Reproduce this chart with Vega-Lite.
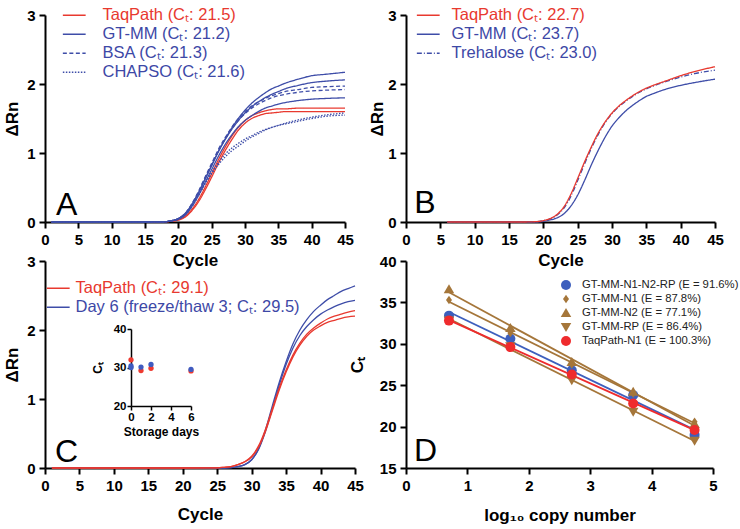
{
"$schema":"https://vega.github.io/schema/vega-lite/v6.json",
"padding":{"left":3,"top":7,"right":5,"bottom":5},
"background":"white",
"bounds":"flush",
"columns":2,
"spacing":{"row":39,"column":51},
"resolve":{"scale":{"color":"independent","stroke":"independent","strokeDash":"independent","shape":"independent","size":"independent","fill":"independent"},"legend":{"color":"independent","stroke":"independent","strokeDash":"independent","shape":"independent","size":"independent","fill":"independent"}},
"config":{
 "font":"Liberation Sans",
 "view":{"stroke":null},
 "axis":{"domainColor":"#000","domainWidth":2,"tickColor":"#000","tickWidth":2,"tickSize":6,"labelFontSize":15,"labelFontWeight":"bold","labelColor":"#000","labelFont":"Liberation Sans","titleFont":"Liberation Sans","titleFontSize":17,"titleFontWeight":"bold","titleColor":"#000","grid":false,"labelPadding":4,"titlePadding":5,"labelFlush":false,"labelOverlap":false}
},
"datasets":{
 "A":[
  {"c":1,"t1":0,"t2":0,"g1":0,"g2":0,"g3":0,"b1":0,"b2":0,"h1":0,"h2":0},
  {"c":8,"t1":0,"t2":0,"g1":0,"g2":0,"g3":0,"b1":0,"b2":0,"h1":0,"h2":0},
  {"c":15,"t1":0,"t2":0,"g1":0,"g2":0,"g3":0,"b1":0,"b2":0,"h1":0,"h2":0},
  {"c":18,"t1":0.005,"t2":0.005,"g1":0.005,"g2":0.005,"g3":0.005,"b1":0.005,"b2":0.005,"h1":0.005,"h2":0.005},
  {"c":19,"t1":0.01,"t2":0.01,"g1":0.02,"g2":0.02,"g3":0.015,"b1":0.02,"b2":0.02,"h1":0.015,"h2":0.015},
  {"c":20,"t1":0.03,"t2":0.03,"g1":0.05,"g2":0.05,"g3":0.04,"b1":0.05,"b2":0.05,"h1":0.04,"h2":0.04},
  {"c":21,"t1":0.08,"t2":0.07,"g1":0.12,"g2":0.12,"g3":0.10,"b1":0.12,"b2":0.12,"h1":0.10,"h2":0.10},
  {"c":22,"t1":0.18,"t2":0.16,"g1":0.25,"g2":0.25,"g3":0.22,"b1":0.26,"b2":0.25,"h1":0.22,"h2":0.22},
  {"c":23,"t1":0.32,"t2":0.29,"g1":0.42,"g2":0.42,"g3":0.38,"b1":0.44,"b2":0.43,"h1":0.38,"h2":0.38},
  {"c":24,"t1":0.50,"t2":0.46,"g1":0.62,"g2":0.62,"g3":0.57,"b1":0.65,"b2":0.63,"h1":0.55,"h2":0.56},
  {"c":25,"t1":0.70,"t2":0.65,"g1":0.82,"g2":0.82,"g3":0.76,"b1":0.85,"b2":0.83,"h1":0.70,"h2":0.72},
  {"c":26,"t1":0.90,"t2":0.85,"g1":1.02,"g2":1.02,"g3":0.95,"b1":1.05,"b2":1.03,"h1":0.83,"h2":0.86},
  {"c":27,"t1":1.08,"t2":1.03,"g1":1.20,"g2":1.19,"g3":1.12,"b1":1.22,"b2":1.20,"h1":0.94,"h2":0.98},
  {"c":28,"t1":1.24,"t2":1.19,"g1":1.36,"g2":1.34,"g3":1.26,"b1":1.37,"b2":1.35,"h1":1.03,"h2":1.07},
  {"c":29,"t1":1.37,"t2":1.33,"g1":1.50,"g2":1.47,"g3":1.38,"b1":1.50,"b2":1.47,"h1":1.10,"h2":1.14},
  {"c":30,"t1":1.47,"t2":1.43,"g1":1.62,"g2":1.58,"g3":1.47,"b1":1.60,"b2":1.57,"h1":1.17,"h2":1.20},
  {"c":31,"t1":1.54,"t2":1.50,"g1":1.72,"g2":1.67,"g3":1.54,"b1":1.68,"b2":1.65,"h1":1.23,"h2":1.25},
  {"c":32,"t1":1.58,"t2":1.54,"g1":1.80,"g2":1.74,"g3":1.60,"b1":1.74,"b2":1.71,"h1":1.28,"h2":1.30},
  {"c":33,"t1":1.61,"t2":1.57,"g1":1.87,"g2":1.80,"g3":1.65,"b1":1.79,"b2":1.76,"h1":1.33,"h2":1.34},
  {"c":34,"t1":1.63,"t2":1.58,"g1":1.93,"g2":1.85,"g3":1.68,"b1":1.83,"b2":1.80,"h1":1.37,"h2":1.37},
  {"c":35,"t1":1.64,"t2":1.59,"g1":1.97,"g2":1.89,"g3":1.71,"b1":1.86,"b2":1.83,"h1":1.40,"h2":1.40},
  {"c":36,"t1":1.64,"t2":1.60,"g1":2.01,"g2":1.93,"g3":1.73,"b1":1.89,"b2":1.85,"h1":1.43,"h2":1.42},
  {"c":38,"t1":1.65,"t2":1.60,"g1":2.07,"g2":1.98,"g3":1.76,"b1":1.92,"b2":1.88,"h1":1.48,"h2":1.46},
  {"c":40,"t1":1.65,"t2":1.60,"g1":2.12,"g2":2.02,"g3":1.78,"b1":1.95,"b2":1.90,"h1":1.52,"h2":1.50},
  {"c":42,"t1":1.65,"t2":1.60,"g1":2.14,"g2":2.04,"g3":1.79,"b1":1.96,"b2":1.91,"h1":1.55,"h2":1.53},
  {"c":45,"t1":1.65,"t2":1.60,"g1":2.17,"g2":2.06,"g3":1.80,"b1":1.97,"b2":1.92,"h1":1.58,"h2":1.55}
 ],
 "Akeys":[
  {"key":"t1","cat":"TaqPath (Cₜ: 21.5)"},{"key":"t2","cat":"TaqPath (Cₜ: 21.5)"},
  {"key":"g1","cat":"GT-MM (Cₜ: 21.2)"},{"key":"g2","cat":"GT-MM (Cₜ: 21.2)"},{"key":"g3","cat":"GT-MM (Cₜ: 21.2)"},
  {"key":"b1","cat":"BSA (Cₜ: 21.3)"},{"key":"b2","cat":"BSA (Cₜ: 21.3)"},
  {"key":"h1","cat":"CHAPSO (Cₜ: 21.6)"},{"key":"h2","cat":"CHAPSO (Cₜ: 21.6)"}
 ],
 "B":[
  {"c":6,"t":0,"g":0,"r":0},
  {"c":12,"t":0,"g":0,"r":0},
  {"c":17,"t":0,"g":0,"r":0},
  {"c":19,"t":0.005,"g":0,"r":0.005},
  {"c":20,"t":0.02,"g":0.01,"r":0.02},
  {"c":21,"t":0.05,"g":0.03,"r":0.045},
  {"c":22,"t":0.11,"g":0.06,"r":0.10},
  {"c":23,"t":0.22,"g":0.12,"r":0.20},
  {"c":24,"t":0.40,"g":0.23,"r":0.37},
  {"c":25,"t":0.63,"g":0.39,"r":0.60},
  {"c":26,"t":0.87,"g":0.60,"r":0.84},
  {"c":27,"t":1.09,"g":0.83,"r":1.07},
  {"c":28,"t":1.29,"g":1.04,"r":1.27},
  {"c":29,"t":1.45,"g":1.23,"r":1.44},
  {"c":30,"t":1.58,"g":1.39,"r":1.57},
  {"c":31,"t":1.68,"g":1.51,"r":1.67},
  {"c":32,"t":1.76,"g":1.61,"r":1.75},
  {"c":33,"t":1.83,"g":1.69,"r":1.82},
  {"c":34,"t":1.89,"g":1.76,"r":1.88},
  {"c":35,"t":1.94,"g":1.82,"r":1.93},
  {"c":36,"t":1.98,"g":1.86,"r":1.97},
  {"c":38,"t":2.05,"g":1.93,"r":2.04},
  {"c":40,"t":2.12,"g":1.98,"r":2.10},
  {"c":42,"t":2.18,"g":2.02,"r":2.15},
  {"c":45,"t":2.25,"g":2.07,"r":2.20}
 ],
 "Bkeys":[
  {"key":"t","cat":"TaqPath (Cₜ: 22.7)"},{"key":"g","cat":"GT-MM (Cₜ: 23.7)"},{"key":"r","cat":"Trehalose (Cₜ: 23.0)"}
 ],
 "C":[
  {"c":1,"t1":0,"t2":0,"g1":0,"g2":0},
  {"c":10,"t1":0,"t2":0,"g1":0,"g2":0},
  {"c":20,"t1":0,"t2":0,"g1":0,"g2":0},
  {"c":25,"t1":0.003,"t2":0.003,"g1":0,"g2":0},
  {"c":26,"t1":0.01,"t2":0.01,"g1":0,"g2":0},
  {"c":27,"t1":0.02,"t2":0.02,"g1":0.005,"g2":0.005},
  {"c":28,"t1":0.05,"t2":0.05,"g1":0.02,"g2":0.02},
  {"c":29,"t1":0.09,"t2":0.09,"g1":0.05,"g2":0.05},
  {"c":30,"t1":0.17,"t2":0.16,"g1":0.12,"g2":0.12},
  {"c":31,"t1":0.32,"t2":0.30,"g1":0.28,"g2":0.27},
  {"c":32,"t1":0.56,"t2":0.53,"g1":0.55,"g2":0.53},
  {"c":33,"t1":0.86,"t2":0.83,"g1":0.90,"g2":0.86},
  {"c":34,"t1":1.16,"t2":1.13,"g1":1.24,"g2":1.20},
  {"c":35,"t1":1.42,"t2":1.39,"g1":1.54,"g2":1.50},
  {"c":36,"t1":1.64,"t2":1.61,"g1":1.80,"g2":1.74},
  {"c":37,"t1":1.81,"t2":1.78,"g1":2.00,"g2":1.92},
  {"c":38,"t1":1.94,"t2":1.91,"g1":2.15,"g2":2.05},
  {"c":39,"t1":2.03,"t2":2.00,"g1":2.27,"g2":2.15},
  {"c":40,"t1":2.10,"t2":2.06,"g1":2.36,"g2":2.23},
  {"c":41,"t1":2.16,"t2":2.11,"g1":2.44,"g2":2.29},
  {"c":42,"t1":2.20,"t2":2.14,"g1":2.50,"g2":2.34},
  {"c":43,"t1":2.23,"t2":2.17,"g1":2.56,"g2":2.38},
  {"c":44,"t1":2.26,"t2":2.19,"g1":2.60,"g2":2.41},
  {"c":45,"t1":2.28,"t2":2.20,"g1":2.64,"g2":2.43}
 ],
 "Ckeys":[
  {"key":"t1","cat":"TaqPath (Cₜ: 29.1)"},{"key":"t2","cat":"TaqPath (Cₜ: 29.1)"},
  {"key":"g1","cat":"Day 6 (freeze/thaw 3; Cₜ: 29.5)"},{"key":"g2","cat":"Day 6 (freeze/thaw 3; Cₜ: 29.5)"}
 ],
 "inset":[
  {"d":0,"ct":32.0,"grp":"TaqPath (Cₜ: 29.1)"},
  {"d":0,"ct":30.4,"grp":"Day 6 (freeze/thaw 3; Cₜ: 29.5)"},
  {"d":0,"ct":30.0,"grp":"Day 6 (freeze/thaw 3; Cₜ: 29.5)"},
  {"d":1,"ct":29.2,"grp":"TaqPath (Cₜ: 29.1)"},
  {"d":1,"ct":30.1,"grp":"Day 6 (freeze/thaw 3; Cₜ: 29.5)"},
  {"d":2,"ct":29.8,"grp":"TaqPath (Cₜ: 29.1)"},
  {"d":2,"ct":30.8,"grp":"Day 6 (freeze/thaw 3; Cₜ: 29.5)"},
  {"d":6,"ct":29.1,"grp":"TaqPath (Cₜ: 29.1)"},
  {"d":6,"ct":29.5,"grp":"Day 6 (freeze/thaw 3; Cₜ: 29.5)"}
 ],
 "D":[
  {"s":"GT-MM-N1-N2-RP (E = 91.6%)","x":0.7,"ct":33.4},
  {"s":"GT-MM-N1-N2-RP (E = 91.6%)","x":1.7,"ct":30.6},
  {"s":"GT-MM-N1-N2-RP (E = 91.6%)","x":2.7,"ct":26.8},
  {"s":"GT-MM-N1-N2-RP (E = 91.6%)","x":3.7,"ct":23.8},
  {"s":"GT-MM-N1-N2-RP (E = 91.6%)","x":4.7,"ct":19.0},
  {"s":"GT-MM-N1 (E = 87.8%)","x":0.7,"ct":35.3},
  {"s":"GT-MM-N1 (E = 87.8%)","x":1.7,"ct":31.3},
  {"s":"GT-MM-N1 (E = 87.8%)","x":2.7,"ct":27.5},
  {"s":"GT-MM-N1 (E = 87.8%)","x":3.7,"ct":24.0},
  {"s":"GT-MM-N1 (E = 87.8%)","x":4.7,"ct":20.6},
  {"s":"GT-MM-N2 (E = 77.1%)","x":0.7,"ct":36.6},
  {"s":"GT-MM-N2 (E = 77.1%)","x":1.7,"ct":31.9},
  {"s":"GT-MM-N2 (E = 77.1%)","x":2.7,"ct":27.8},
  {"s":"GT-MM-N2 (E = 77.1%)","x":3.7,"ct":24.2},
  {"s":"GT-MM-N2 (E = 77.1%)","x":4.7,"ct":20.3},
  {"s":"GT-MM-RP (E = 86.4%)","x":0.7,"ct":32.8},
  {"s":"GT-MM-RP (E = 86.4%)","x":1.7,"ct":29.7},
  {"s":"GT-MM-RP (E = 86.4%)","x":2.7,"ct":25.6},
  {"s":"GT-MM-RP (E = 86.4%)","x":3.7,"ct":21.8},
  {"s":"GT-MM-RP (E = 86.4%)","x":4.7,"ct":18.3},
  {"s":"TaqPath-N1 (E = 100.3%)","x":0.7,"ct":32.8},
  {"s":"TaqPath-N1 (E = 100.3%)","x":1.7,"ct":29.6},
  {"s":"TaqPath-N1 (E = 100.3%)","x":2.7,"ct":26.3},
  {"s":"TaqPath-N1 (E = 100.3%)","x":3.7,"ct":22.8},
  {"s":"TaqPath-N1 (E = 100.3%)","x":4.7,"ct":19.6}
 ]
},
"concat":[
  {"width":300,"height":207,
   "layer":[
    {"data":{"name":"A"},
     "transform":[{"fold":["t1","t2","g1","g2","g3","b1","b2","h1","h2"],"as":["key","v"]},{"lookup":"key","from":{"data":{"name":"Akeys"},"key":"key","fields":["cat"]}}],
     "mark":{"type":"line","strokeWidth":1.3,"interpolate":"monotone"},
     "encoding":{
      "x":{"field":"c","type":"quantitative","scale":{"domain":[0,45],"nice":false,"zero":false},"axis":{"values":[0,5,10,15,20,25,30,35,40,45],"format":"d","title":"Cycle"}},
      "y":{"field":"v","type":"quantitative","scale":{"domain":[0,3],"nice":false},"axis":{"values":[0,1,2,3],"format":"d","title":"ΔRn","titlePadding":5}},
      "color":{"field":"cat","type":"nominal","scale":{"domain":["TaqPath (Cₜ: 21.5)","GT-MM (Cₜ: 21.2)","BSA (Cₜ: 21.3)","CHAPSO (Cₜ: 21.6)"],"range":["#e8392f","#3e4da8","#3e4da8","#3e4da8"]},
       "legend":{"orient":"none","legendX":21,"legendY":-8,"title":null,"symbolType":"M-2,0H2","symbolSize":130,"symbolStrokeWidth":1.5,"labelFontSize":16.5,"labelFont":"Liberation Sans","labelOffset":20,"labelLimit":400,"rowPadding":2,"padding":0,"encode":{"labels":{"update":{"fill":{"signal":"indexof(datum.label,'TaqPath')>=0 ? '#e8392f' : '#3d48a6'"}}}}}},
      "strokeDash":{"field":"cat","type":"nominal","scale":{"domain":["TaqPath (Cₜ: 21.5)","GT-MM (Cₜ: 21.2)","BSA (Cₜ: 21.3)","CHAPSO (Cₜ: 21.6)"],"range":[[1,0],[1,0],[4,2.5],[1.5,1.5]]},
       "legend":{"orient":"none","legendX":21,"legendY":-8,"title":null,"symbolType":"M-2,0H2","symbolSize":130,"symbolStrokeWidth":1.5,"labelFontSize":16.5,"labelFont":"Liberation Sans","labelOffset":20,"labelLimit":400,"rowPadding":2,"padding":0,"encode":{"labels":{"update":{"fill":{"signal":"indexof(datum.label,'TaqPath')>=0 ? '#e8392f' : '#3d48a6'"}}}}}},
      "detail":{"field":"key","type":"nominal"}
     }},
    {"data":{"values":[{"panel":"A"}]},
     "mark":{"type":"text","fontSize":32,"align":"left","baseline":"alphabetic","color":"#000","font":"Liberation Sans"},
     "encoding":{"x":{"datum":1.65,"axis":{"values":[0,5,10,15,20,25,30,35,40,45],"format":"d","title":"Cycle"}},"y":{"datum":0.1,"axis":{"values":[0,1,2,3],"format":"d","title":"ΔRn","titlePadding":5}},"text":{"field":"panel"}}}
   ]},
  {"width":309,"height":207,
   "layer":[
    {"data":{"name":"B"},
     "transform":[{"fold":["g","r","t"],"as":["key","v"]},{"lookup":"key","from":{"data":{"name":"Bkeys"},"key":"key","fields":["cat"]}}],
     "mark":{"type":"line","strokeWidth":1.3,"interpolate":"monotone"},
     "encoding":{
      "x":{"field":"c","type":"quantitative","scale":{"domain":[0,45],"nice":false,"zero":false},"axis":{"values":[0,5,10,15,20,25,30,35,40,45],"format":"d","title":"Cycle"}},
      "y":{"field":"v","type":"quantitative","scale":{"domain":[0,3],"nice":false},"axis":{"values":[0,1,2,3],"format":"d","title":"ΔRn","titlePadding":1}},
      "color":{"field":"cat","type":"nominal","scale":{"domain":["TaqPath (Cₜ: 22.7)","GT-MM (Cₜ: 23.7)","Trehalose (Cₜ: 23.0)"],"range":["#e8392f","#3e4da8","#3e4da8"]},
       "legend":{"orient":"none","legendX":14,"legendY":-8,"title":null,"symbolType":"M-2,0H2","symbolSize":130,"symbolStrokeWidth":1.5,"labelFontSize":16.5,"labelFont":"Liberation Sans","labelOffset":15,"labelLimit":400,"rowPadding":2,"padding":0,"encode":{"labels":{"update":{"fill":{"signal":"indexof(datum.label,'TaqPath')>=0 ? '#e8392f' : '#3d48a6'"}}}}}},
      "strokeDash":{"field":"cat","type":"nominal","scale":{"domain":["TaqPath (Cₜ: 22.7)","GT-MM (Cₜ: 23.7)","Trehalose (Cₜ: 23.0)"],"range":[[1,0],[1,0],[5,2,1,2]]},
       "legend":{"orient":"none","legendX":14,"legendY":-8,"title":null,"symbolType":"M-2,0H2","symbolSize":130,"symbolStrokeWidth":1.5,"labelFontSize":16.5,"labelFont":"Liberation Sans","labelOffset":15,"labelLimit":400,"rowPadding":2,"padding":0,"encode":{"labels":{"update":{"fill":{"signal":"indexof(datum.label,'TaqPath')>=0 ? '#e8392f' : '#3d48a6'"}}}}}},
      "detail":{"field":"key","type":"nominal"}
     }},
    {"data":{"values":[{"panel":"B"}]},
     "mark":{"type":"text","fontSize":32,"align":"left","baseline":"alphabetic","color":"#000","font":"Liberation Sans"},
     "encoding":{"x":{"datum":1.2,"axis":{"values":[0,5,10,15,20,25,30,35,40,45],"format":"d","title":"Cycle"}},"y":{"datum":0.13,"axis":{"values":[0,1,2,3],"format":"d","title":"ΔRn","titlePadding":1}},"text":{"field":"panel"}}}
   ]},
  {"width":310,"height":207,
   "resolve":{"scale":{"x":"independent","y":"independent"}},
   "layer":[
    {"layer":[
     {"data":{"name":"C"},
      "transform":[{"fold":["g1","g2","t1","t2"],"as":["key","v"]},{"lookup":"key","from":{"data":{"name":"Ckeys"},"key":"key","fields":["cat"]}}],
      "mark":{"type":"line","strokeWidth":1.3,"interpolate":"monotone"},
      "encoding":{
       "x":{"field":"c","type":"quantitative","scale":{"domain":[0,45],"nice":false,"zero":false},"axis":{"values":[0,5,10,15,20,25,30,35,40,45],"format":"d","title":"Cycle","orient":"bottom","titlePadding":13}},
       "y":{"field":"v","type":"quantitative","scale":{"domain":[0,3],"nice":false},"axis":{"values":[0,1,2,3],"format":"d","title":"ΔRn","orient":"left","titlePadding":5}},
       "color":{"field":"cat","type":"nominal","scale":{"domain":["TaqPath (Cₜ: 29.1)","Day 6 (freeze/thaw 3; Cₜ: 29.5)"],"range":["#e8392f","#3e4da8"]},
        "legend":{"orient":"none","legendX":5,"legendY":19,"title":null,"symbolType":"M-2,0H2","symbolSize":130,"symbolStrokeWidth":1.5,"labelFontSize":16.5,"labelFont":"Liberation Sans","labelOffset":9,"labelLimit":400,"rowPadding":2,"padding":0,"encode":{"labels":{"update":{"fill":{"signal":"indexof(datum.label,'TaqPath')>=0 ? '#e8392f' : '#3d48a6'"}}}}}},
       "detail":{"field":"key","type":"nominal"}
      }},
     {"data":{"values":[{"panel":"C"}]},
      "mark":{"type":"text","fontSize":32,"align":"left","baseline":"alphabetic","color":"#000","font":"Liberation Sans"},
      "encoding":{"x":{"datum":1.45,"axis":{"values":[0,5,10,15,20,25,30,35,40,45],"format":"d","title":"Cycle","orient":"bottom","titlePadding":13}},"y":{"datum":0.09,"axis":{"values":[0,1,2,3],"format":"d","title":"ΔRn","orient":"left","titlePadding":5}},"text":{"field":"panel"}}}
    ]},
    {"data":{"name":"inset"},
     "mark":{"type":"point","filled":true,"size":28,"opacity":1},
     "encoding":{
      "x":{"field":"d","type":"quantitative","scale":{"domain":[0,6],"range":[86,146],"nice":false,"zero":false},"axis":{"orient":"bottom","offset":-62,"values":[0,2,4,6],"format":"d","title":"Storage days","labelFontSize":11.5,"titleFontSize":12,"tickSize":4,"tickWidth":1.5,"domainWidth":1.5,"labelPadding":1,"titlePadding":4}},
      "y":{"field":"ct","type":"quantitative","scale":{"domain":[20,40],"range":[145,68],"nice":false,"zero":false},"axis":{"orient":"left","offset":-86,"values":[20,30,40],"format":"d","title":"Cₜ","labelFontSize":11.5,"titleFontSize":12,"tickSize":4,"tickWidth":1.5,"domainWidth":1.5,"labelPadding":1,"titlePadding":9}},
      "fill":{"field":"grp","type":"nominal","scale":{"domain":["TaqPath (Cₜ: 29.1)","Day 6 (freeze/thaw 3; Cₜ: 29.5)"],"range":["#ee3a30","#3f5bc0"]},"legend":null}
     }}
   ]},
  {"width":307,"height":207,
   "layer":[
    {"data":{"name":"D"},
     "transform":[{"regression":"ct","on":"x","groupby":["s"]}],
     "mark":{"type":"line","strokeWidth":1.8},
     "encoding":{
      "x":{"field":"x","type":"quantitative","scale":{"domain":[0,5],"nice":false},"axis":{"values":[0,1,2,3,4,5],"format":"d","title":"log₁₀ copy number","titlePadding":14}},
      "y":{"field":"ct","type":"quantitative","scale":{"domain":[15,40],"nice":false,"zero":false},"axis":{"values":[15,20,25,30,35,40],"format":"d","title":"Cₜ","titlePadding":13}},
      "stroke":{"field":"s","type":"nominal","scale":{"domain":["TaqPath-N1 (E = 100.3%)","GT-MM-RP (E = 86.4%)","GT-MM-N2 (E = 77.1%)","GT-MM-N1 (E = 87.8%)","GT-MM-N1-N2-RP (E = 91.6%)"],"range":["#ef2b2d","#a5763a","#a5763a","#a5763a","#3d5fbd"]},"legend":null}
     }},
    {"data":{"name":"D"},
     "mark":{"type":"point","filled":true,"opacity":1,"size":100},
     "encoding":{
      "x":{"field":"x","type":"quantitative","axis":{"values":[0,1,2,3,4,5],"format":"d","title":"log₁₀ copy number","titlePadding":14}},
      "y":{"field":"ct","type":"quantitative","axis":{"values":[15,20,25,30,35,40],"format":"d","title":"Cₜ","titlePadding":13}},
      "color":{"field":"s","type":"nominal","scale":{"domain":["GT-MM-N1-N2-RP (E = 91.6%)","GT-MM-N1 (E = 87.8%)","GT-MM-N2 (E = 77.1%)","GT-MM-RP (E = 86.4%)","TaqPath-N1 (E = 100.3%)"],"range":["#3d5fbd","#a5763a","#a5763a","#a5763a","#ef2b2d"]},"legend":{"orient":"none","legendX":154,"legendY":18,"title":null,"symbolSize":100,"symbolStrokeWidth":1.5,"labelFontSize":11.3,"labelFont":"Liberation Sans","labelColor":"#222","labelLimit":400,"labelOffset":10,"rowPadding":2,"padding":0}},
      "shape":{"field":"s","type":"nominal","scale":{"domain":["GT-MM-N1-N2-RP (E = 91.6%)","GT-MM-N1 (E = 87.8%)","GT-MM-N2 (E = 77.1%)","GT-MM-RP (E = 86.4%)","TaqPath-N1 (E = 100.3%)"],"range":["circle","M0,-0.85L0.6,0L0,0.85L-0.6,0Z","M0,-1L1.05,0.8L-1.05,0.8Z","M0,1L1.05,-0.8L-1.05,-0.8Z","circle"]},"legend":{"orient":"none","legendX":154,"legendY":18,"title":null,"symbolSize":100,"symbolStrokeWidth":1.5,"labelFontSize":11.3,"labelFont":"Liberation Sans","labelColor":"#222","labelLimit":400,"labelOffset":10,"rowPadding":2,"padding":0}}
     }},
    {"data":{"values":[{"panel":"D"}]},
     "mark":{"type":"text","fontSize":32,"align":"left","baseline":"alphabetic","color":"#000","font":"Liberation Sans"},
     "encoding":{"x":{"datum":0.13,"axis":{"values":[0,1,2,3,4,5],"format":"d","title":"log₁₀ copy number","titlePadding":14}},"y":{"datum":15.85,"axis":{"values":[15,20,25,30,35,40],"format":"d","title":"Cₜ","titlePadding":13}},"text":{"field":"panel"}}}
   ]}
]
}
